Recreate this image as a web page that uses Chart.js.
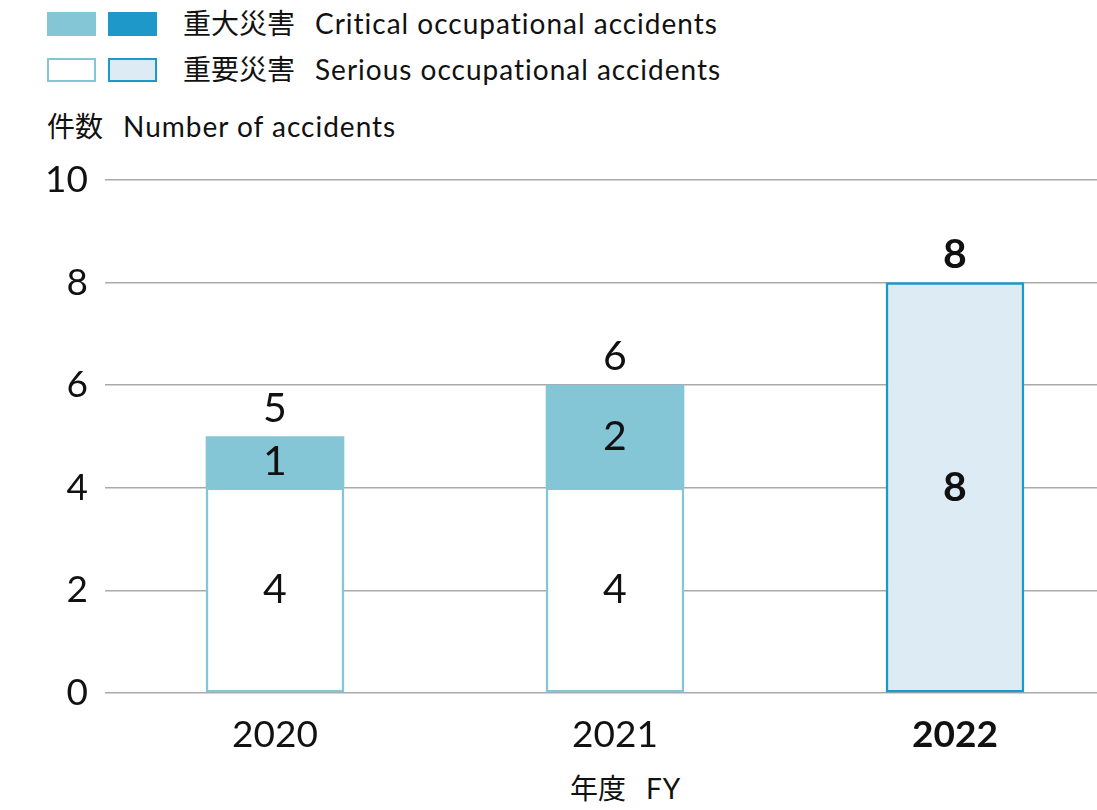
<!DOCTYPE html>
<html lang="ja">
<head>
    <meta charset="UTF-8">
    <title>重大災害・重要災害 件数</title>
    <script src="https://cdn.jsdelivr.net/npm/chart.js"></script>
    <style>
        html, body { margin: 0; padding: 0; background: #fff; overflow: hidden; }
        body { width: 1097px; height: 810px; position: relative;
               font-family: Lato, "Noto Sans CJK JP", sans-serif; color: #111; }
        #chartBox { position: absolute; left: 0; top: 0; width: 1130px; height: 810px; }
        .sw { position: absolute; width: 49px; height: 24px; box-sizing: border-box; }
        .txt { position: absolute; font-size: 28px; line-height: 32px; white-space: nowrap; }
        .txt .en { margin-left: 20px; letter-spacing: 1px; }
    </style>
</head>
<body>
    <div class="sw" style="left:47px;top:12px;background:#84c5d6;"></div>
    <div class="sw" style="left:108px;top:12px;background:#1e98c8;"></div>
    <div class="txt" style="left:183px;top:7px;">重大災害<span class="en">Critical occupational accidents</span></div>
    <div class="sw" style="left:47px;top:58px;background:#fff;border:2.5px solid #84c5d6;"></div>
    <div class="sw" style="left:108px;top:58px;background:#ddebf5;border:2.5px solid #1e98c8;"></div>
    <div class="txt" style="left:183px;top:53px;">重要災害<span class="en">Serious occupational accidents</span></div>
    <div class="txt" style="left:47px;top:110px;">件数<span class="en">Number of accidents</span></div>
    <div class="txt" style="left:570px;top:772px;">年度<span class="en">FY</span></div>

    <div id="chartBox"><canvas id="accChart"></canvas></div>

    <script>
        var years = ['2020', '2021', '2022'];
        var serious = [4, 4, 8];
        var critical = [1, 2, 0];
        var yTicks = [0, 2, 4, 6, 8, 10];

        var FONT = 'Lato, "Noto Sans CJK JP", sans-serif';
        var lastIdx = years.length - 1;

        var labelPlugin = {
            id: 'barLabels',
            afterDatasetsDraw: function (chart) {
                var ctx = chart.ctx;
                ctx.save();
                ctx.fillStyle = '#111';
                ctx.textAlign = 'center';
                ctx.textBaseline = 'middle';
                var metaS = chart.getDatasetMeta(0);
                var metaC = chart.getDatasetMeta(1);
                years.forEach(function (y, i) {
                    var bold = i === lastIdx ? 'bold ' : '';
                    ctx.font = bold + '41px ' + FONT;
                    var s = metaS.data[i];
                    ctx.fillText(String(serious[i]), s.x, (s.y + s.base) / 2);
                    var topY = s.y;
                    if (critical[i] > 0) {
                        var c = metaC.data[i];
                        ctx.fillText(String(critical[i]), c.x, (c.y + c.base) / 2);
                        topY = c.y;
                    }
                    ctx.fillText(String(serious[i] + critical[i]), s.x, topY - 28);
                });
                ctx.restore();
            }
        };

        new Chart(document.getElementById('accChart'), {
            type: 'bar',
            data: {
                labels: years,
                datasets: [{
                    label: '重要災害',
                    data: serious,
                    backgroundColor: ['#ffffff', '#ffffff', '#ddebf5'],
                    borderColor: ['#84c5d6', '#84c5d6', '#1e98c8'],
                    borderWidth: 2.5,
                    borderSkipped: false,
                    stack: 's'
                }, {
                    label: '重大災害',
                    data: critical,
                    backgroundColor: '#84c5d6',
                    borderWidth: 0,
                    stack: 's'
                }]
            },
            options: {
                responsive: true,
                maintainAspectRatio: false,
                animation: false,
                datasets: { bar: { barThickness: 138 } },
                layout: { padding: { top: 180, right: 5, left: 0, bottom: 0 } },
                plugins: { legend: { display: false }, tooltip: { enabled: false } },
                scales: {
                    x: {
                        stacked: true,
                        grid: { display: false, drawTicks: false },
                        border: { display: false },
                        ticks: {
                            padding: 20,
                            color: '#111',
                            font: function (c) {
                                return { family: FONT, size: 37, weight: c.index === lastIdx ? 'bold' : 'normal' };
                            }
                        },
                        afterFit: function (s) { s.height = 117; }
                    },
                    y: {
                        stacked: true,
                        min: 0,
                        max: 10,
                        afterBuildTicks: function (s) {
                            s.ticks = yTicks.map(function (v) { return { value: v }; });
                        },
                        grid: { color: '#aaaaaa', lineWidth: 1.5, drawTicks: false },
                        border: { display: false },
                        ticks: {
                            padding: 17,
                            color: '#111',
                            font: { family: FONT, size: 37 }
                        },
                        afterFit: function (s) { s.width = 105; }
                    }
                }
            },
            plugins: [labelPlugin]
        });
    </script>
</body>
</html>
